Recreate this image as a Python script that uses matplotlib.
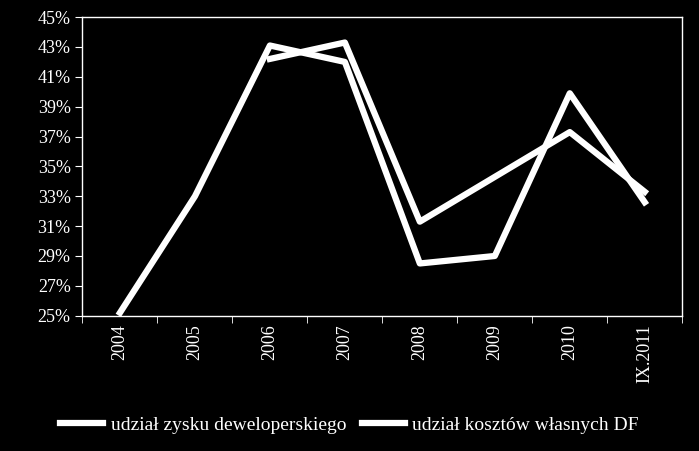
import matplotlib.pyplot as plt
import numpy as np

years = ['2004', '2005', '2006', '2007', '2008', '2009', '2010', 'IX.2011']
zysk = [25.2, 33.0, 43.1, 42.0, 28.5, 29.0, 39.9, 32.6]
koszty = [None, None, 42.2, 43.3, 31.3, 34.3, 37.3, 33.3]

plt.rcParams['font.family'] = ['Liberation Serif', 'DejaVu Serif']

fig = plt.figure(figsize=(6.99, 4.51), dpi=100, facecolor='black')
ax = fig.add_axes([0.118, 0.30, 0.858, 0.662], facecolor='black')

x = np.arange(len(years))
ax.plot(x, zysk, color='white', lw=4.5, label='udział zysku deweloperskiego')
kx = [i for i, v in enumerate(koszty) if v is not None]
ky = [v for v in koszty if v is not None]
ax.plot(kx, ky, color='white', lw=4.5, label='udział kosztów własnych DF')

ax.set_xlim(-0.5, len(years) - 0.5)
ax.set_ylim(25, 45)
ax.set_yticks(range(25, 46, 2))
ax.set_yticklabels([f'{v}%' for v in range(25, 46, 2)])
ax.set_xticks(x)
ax.set_xticklabels(years, rotation=90)
ax.set_xticks(np.arange(-0.5, len(years), 1), minor=True)
ax.tick_params(axis='x', which='major', length=0, colors='white', labelsize=13, pad=6)
ax.tick_params(axis='x', which='minor', length=5, color='white', direction='out')
ax.tick_params(axis='y', colors='white', labelsize=13, length=5, direction='out')
for s in ax.spines.values():
    s.set_color('white')
    s.set_linewidth(1)

leg = fig.legend(loc='lower center', ncol=2, bbox_to_anchor=(0.5, 0.0), frameon=False,
                 fontsize=14, handlelength=2.2, columnspacing=0.8, handletextpad=0.4)
for t in leg.get_texts():
    t.set_color('white')

fig.savefig('out.png', dpi=100, facecolor='black')
